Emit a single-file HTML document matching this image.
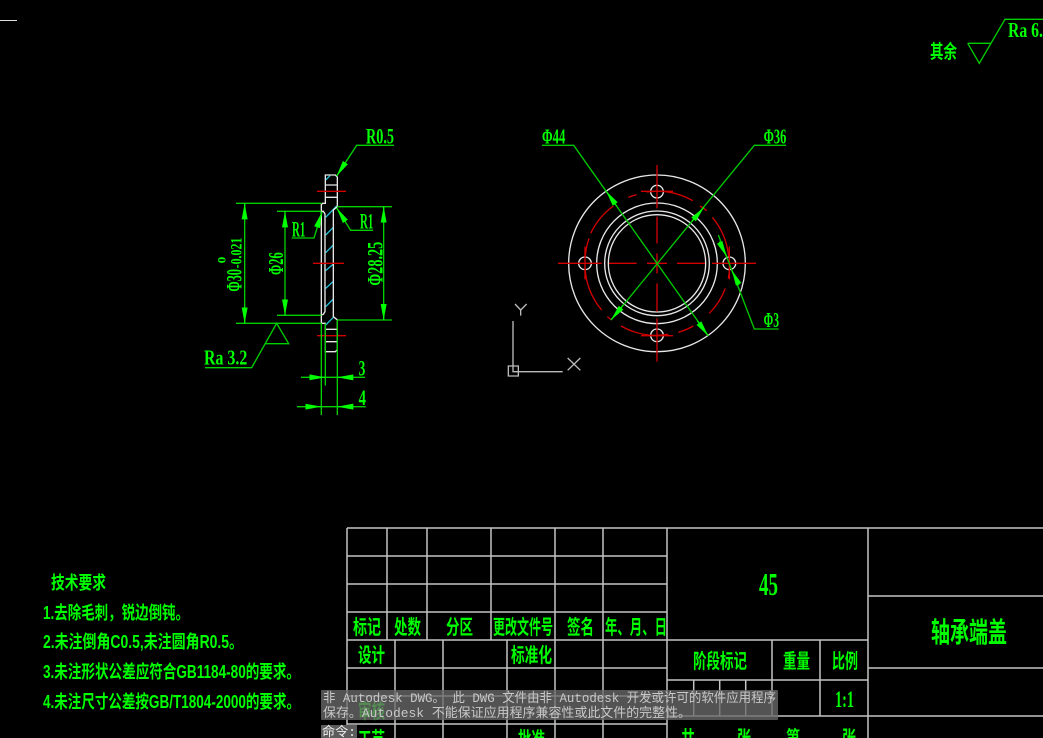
<!DOCTYPE html>
<html><head><meta charset="utf-8"><style>
html,body{margin:0;padding:0;background:#000;width:1043px;height:738px;overflow:hidden}
svg{display:block}
text{fill:#0f0;font-family:"Liberation Serif","Noto Sans CJK SC",serif;font-weight:bold}
.t line,.t path{stroke:#c4c4c4;stroke-width:1.5;fill:none}
.c{font-family:"Liberation Sans","Noto Sans CJK SC",sans-serif}
.w{fill:none;stroke:#e8e8e8;stroke-width:4}
.r{fill:none;stroke:#d00000;stroke-width:4}
.g{fill:none;stroke:#00d000;stroke-width:4}
.h{fill:none;stroke:#20c0d8;stroke-width:4}
.a{stroke:#0f0;stroke-width:3;marker-end:url(#a)}
.o{fill:#c8c8c8;font-family:"Liberation Mono","Noto Sans CJK SC",monospace;font-weight:normal;font-size:13px}
</style></head><body>
<svg width="1043" height="738" viewBox="0 0 1043 738" xmlns="http://www.w3.org/2000/svg">
<defs><marker id="a" markerUnits="userSpaceOnUse" markerWidth="48" markerHeight="20" refX="48" refY="10" orient="auto"><path d="M0 1L48 10L0 19z" fill="#0f0"/></marker></defs>
<rect width="1043" height="738" fill="#000"/>
<line x1="0" y1="20.5" x2="17" y2="20.5" stroke="#ddd"/>

<!-- top right roughness -->
<path d="M967.7 43.3H990.7M967.7 43.3L979.3 63.3L1005 19.3H1043" fill="none" stroke="#00d000" stroke-width="1.3"/>
<text class="c" x="930" y="58" font-size="19" textLength="27" lengthAdjust="spacingAndGlyphs">其余</text>
<text x="1008" y="37" font-size="21" textLength="35" lengthAdjust="spacingAndGlyphs">Ra 6.</text>

<!-- left view -->
<g transform="translate(190,120) scale(.33333)">
<path class="h" d="M407 180L420 167M407 292L440 258M407 345L430 322M407 398L430 375M407 452L430 432M407 505L430 484M407 560L430 537M407 615L432 590"/>
<path class="w" d="M406 236V165H436L442 171V260L430 270V590L442 600V689L436 695H406V610H394V254L398 250H406V236M406 195H442M406 232H442M406 628H442M406 665H442M394 585L400 583L405 575V282L400 274H394"/>
<path class="r" d="M381 214H468M369 430H462M381 647H468"/>
<path class="g" d="M138 250H394M138 610H394M164 250V610M261 274H394M261 586H394M285 274V586M442 260H606M442 600H606M581 260V600"/>
<path class="g" d="M612 76H500L440 168M305 354H372L396 276M549 331H482L440 264M45 743H185L260 610L296 671H226"/>
<path class="g" d="M333 772H525M321 860H527M406 610V797M442 600V885M394 610V885"/>
<line class="a" x1="164" y1="298" x2="164" y2="250"/><line class="a" x1="164" y1="562" x2="164" y2="610"/>
<line class="a" x1="285" y1="322" x2="285" y2="274"/><line class="a" x1="285" y1="538" x2="285" y2="586"/>
<line class="a" x1="581" y1="308" x2="581" y2="260"/><line class="a" x1="581" y1="552" x2="581" y2="600"/>
<line class="a" x1="466" y1="128" x2="440" y2="168"/>
<line class="a" x1="381" y1="322" x2="396" y2="276"/>
<line class="a" x1="466" y1="304" x2="440" y2="264"/>
<line class="a" x1="358" y1="772" x2="406" y2="772"/><line class="a" x1="490" y1="772" x2="442" y2="772"/>
<line class="a" x1="346" y1="860" x2="394" y2="860"/><line class="a" x1="490" y1="860" x2="442" y2="860"/>
<text x="528" y="71" font-size="66" textLength="84" lengthAdjust="spacingAndGlyphs">R0.5</text>
<text x="306" y="349" font-size="66" textLength="40" lengthAdjust="spacingAndGlyphs">R1</text>
<text x="510" y="326" font-size="66" textLength="40" lengthAdjust="spacingAndGlyphs">R1</text>
<text x="42" y="733" font-size="64" textLength="130" lengthAdjust="spacingAndGlyphs">Ra 3.2</text>
<text x="506" y="767" font-size="66" textLength="20" lengthAdjust="spacingAndGlyphs">3</text>
<text x="506" y="855" font-size="66" textLength="22" lengthAdjust="spacingAndGlyphs">4</text>
<text transform="translate(154,515) rotate(-90)" font-size="66" textLength="68" lengthAdjust="spacingAndGlyphs">Φ30</text>
<text transform="translate(154,445) rotate(-90)" font-size="46" textLength="92" lengthAdjust="spacingAndGlyphs">-0.021</text>
<text transform="translate(107,430) rotate(-90)" font-size="34" textLength="20" lengthAdjust="spacingAndGlyphs">0</text>
<text transform="translate(279,465) rotate(-90)" font-size="62" textLength="68" lengthAdjust="spacingAndGlyphs">Φ26</text>
<text transform="translate(577,497) rotate(-90)" font-size="66" textLength="132" lengthAdjust="spacingAndGlyphs">Φ28.25</text>
</g>

<!-- right view -->
<g transform="translate(500,120) scale(.33333)">
<circle class="w" cx="471" cy="430" r="265"/>
<circle class="w" cx="471" cy="430" r="181"/>
<circle class="w" cx="471" cy="430" r="157"/>
<circle class="w" cx="471" cy="430" r="146"/>
<circle class="w" cx="471" cy="215" r="19"/><circle class="w" cx="471" cy="646" r="19"/>
<circle class="w" cx="255" cy="430" r="19"/><circle class="w" cx="688" cy="430" r="19"/>
<path class="r" d="M174 430H305M327 430H410M441 430H501M531 430H615M636 430H768M471 135V265M471 290V370M471 400V460M471 490V575M471 595V725M423 214H519M423 647H519M255 380V478M688 380V478"/>
<path class="r" d="M385 232A216 216 0 0 1 410 224M440 216A216 216 0 0 1 578 242M600 258A216 216 0 0 1 620 272M637 292A216 216 0 0 1 686 410M689 440A216 216 0 0 1 685 475M676 505A216 216 0 0 1 628 580M580 618A216 216 0 0 1 535 637M505 643A216 216 0 0 1 363 618M335 600A216 216 0 0 1 322 590M305 570A216 216 0 0 1 255 440M256 410A216 216 0 0 1 267 355M272 340A216 216 0 0 1 340 258"/>
<path d="M126 76H221L625 648M858 76H763L333 600M655 345L763 627H836" fill="none" stroke="#00c800" stroke-width="4"/>
<line class="a" x1="350" y1="258" x2="318" y2="213"/><line class="a" x1="592" y1="603" x2="625" y2="648"/>
<line class="a" x1="370" y1="555" x2="333" y2="600"/><line class="a" x1="575" y1="305" x2="612" y2="262"/>
<line class="a" x1="658" y1="365" x2="680" y2="410"/><line class="a" x1="717" y1="495" x2="695" y2="450"/>
<text x="126" y="70" font-size="62" textLength="70" lengthAdjust="spacingAndGlyphs">Φ44</text>
<text x="791" y="70" font-size="62" textLength="68" lengthAdjust="spacingAndGlyphs">Φ36</text>
<text x="791" y="621" font-size="62" textLength="46" lengthAdjust="spacingAndGlyphs">Φ3</text>
<path d="M39 603V755H188M25 738H55V768H25ZM45 552L62 570L80 552M62 570V587M203 714L241 751M241 714L203 751" fill="none" stroke="#bbb" stroke-width="4"/>
</g>

<!-- table -->
<g class="t">
<path d="M347 528H1043M347 556H667M347 584H667M347 612H667M347 640H868M347 668H667M868 668H1043M347 696H667M347 724H667M667 680H868M667 716H1043M868 596H1043"/>
<path d="M347 528V738M387 528V640M427 528V640M491 528V640M555 528V738M603 528V738M667 528V738M868 528V738M395 640V738M443 640V738M507 640V738M772 640V716M820 640V716M693.7 680V716M719.7 680V716M745.7 680V716"/>
</g>
<g class="c">
<text class="c" x="353" y="634" font-size="20" textLength="28" lengthAdjust="spacingAndGlyphs">标记</text>
<text class="c" x="394" y="634" font-size="20" textLength="27" lengthAdjust="spacingAndGlyphs">处数</text>
<text class="c" x="446" y="634" font-size="20" textLength="27" lengthAdjust="spacingAndGlyphs">分区</text>
<text class="c" x="493" y="634" font-size="20" textLength="60" lengthAdjust="spacingAndGlyphs">更改文件号</text>
<text class="c" x="567" y="634" font-size="20" textLength="27" lengthAdjust="spacingAndGlyphs">签名</text>
<text class="c" x="605" y="634" font-size="20" textLength="62" lengthAdjust="spacingAndGlyphs">年、月、日</text>
<text class="c" x="358" y="662" font-size="20" textLength="27" lengthAdjust="spacingAndGlyphs">设计</text>
<text class="c" x="511" y="662" font-size="20" textLength="41" lengthAdjust="spacingAndGlyphs">标准化</text>
<text class="c" x="358" y="718" font-size="20" textLength="27" lengthAdjust="spacingAndGlyphs">审核</text>
<text class="c" x="358" y="746" font-size="20" textLength="27" lengthAdjust="spacingAndGlyphs">工艺</text>
<text class="c" x="518" y="746" font-size="20" textLength="27" lengthAdjust="spacingAndGlyphs">批准</text>
<text class="c" x="693" y="668" font-size="20" textLength="54" lengthAdjust="spacingAndGlyphs">阶段标记</text>
<text class="c" x="783" y="668" font-size="20" textLength="27" lengthAdjust="spacingAndGlyphs">重量</text>
<text class="c" x="832" y="668" font-size="20" textLength="26" lengthAdjust="spacingAndGlyphs">比例</text>
<text class="c" x="681" y="745" font-size="20" textLength="14" lengthAdjust="spacingAndGlyphs">共</text>
<text class="c" x="737" y="745" font-size="20" textLength="14" lengthAdjust="spacingAndGlyphs">张</text>
<text class="c" x="786" y="745" font-size="20" textLength="14" lengthAdjust="spacingAndGlyphs">第</text>
<text class="c" x="842" y="745" font-size="20" textLength="14" lengthAdjust="spacingAndGlyphs">张</text>
<text class="c" x="931" y="642" font-size="28" textLength="76" lengthAdjust="spacingAndGlyphs">轴承端盖</text>
</g>
<text x="759" y="595" font-size="32" textLength="19" lengthAdjust="spacingAndGlyphs">45</text>
<text x="835" y="707" font-size="23" textLength="19" lengthAdjust="spacingAndGlyphs">1:1</text>

<!-- notes -->
<text class="c" x="51" y="589" font-size="18" textLength="55" lengthAdjust="spacingAndGlyphs">技术要求</text>
<text class="c" x="43" y="619" font-size="18" textLength="146" lengthAdjust="spacingAndGlyphs">1.去除毛刺，锐边倒钝。</text>
<text class="c" x="43" y="648" font-size="18" textLength="200" lengthAdjust="spacingAndGlyphs">2.未注倒角C0.5,未注圆角R0.5。</text>
<text class="c" x="43" y="678" font-size="18" textLength="257" lengthAdjust="spacingAndGlyphs">3.未注形状公差应符合GB1184-80的要求。</text>
<text class="c" x="43" y="708" font-size="18" textLength="257" lengthAdjust="spacingAndGlyphs">4.未注尺寸公差按GB/T1804-2000的要求。</text>

<!-- overlay -->
<rect x="321" y="690" width="457" height="30" rx="1" fill="#6a6a6a" fill-opacity=".78"/>
<rect x="321" y="725" width="36" height="13" fill="#5c5c5c"/>
<text class="o" x="323" y="702" textLength="453" lengthAdjust="spacingAndGlyphs">非 Autodesk DWG。 此 DWG 文件由非 Autodesk 开发或许可的软件应用程序</text>
<text class="o" x="323" y="717" textLength="368" lengthAdjust="spacingAndGlyphs">保存。Autodesk 不能保证应用程序兼容性或此文件的完整性。</text>
<text class="o" x="322" y="736" textLength="34" lengthAdjust="spacingAndGlyphs" style="fill:#eee">命令:</text>
</svg>
</body></html>
